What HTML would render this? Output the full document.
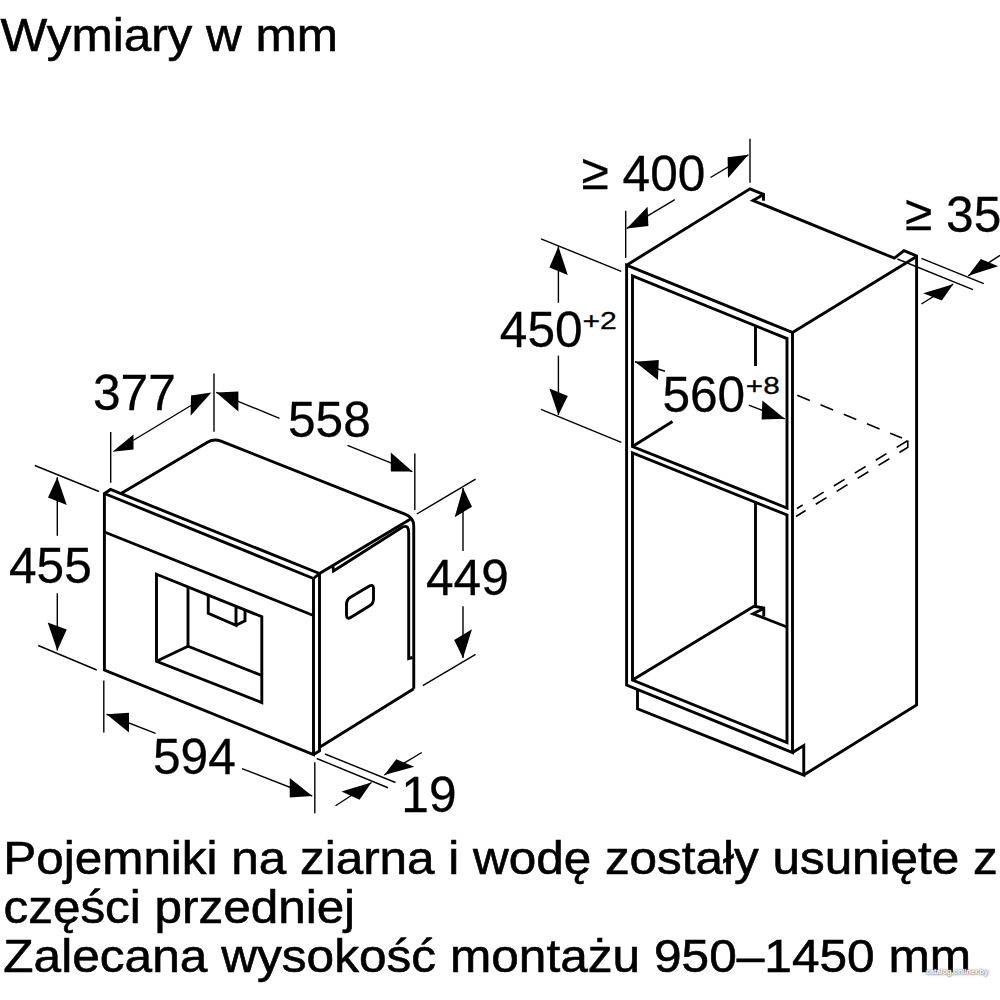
<!DOCTYPE html>
<html lang="pl">
<head>
<meta charset="utf-8">
<title>Wymiary w mm</title>
<style>
html,body{margin:0;padding:0;background:#fff;}
body{width:1000px;height:1000px;overflow:hidden;}
svg{display:block;}
body{position:relative;}
.wm{position:absolute;left:926px;top:967.3px;font:bold 7.3px/9px "Liberation Sans",Arial,sans-serif;color:#fff;text-shadow:0 0 1.5px #777,0 0 2.5px #999,0.5px 1px 2px #aaa;white-space:nowrap;letter-spacing:0;}
svg text.d,svg text.s{stroke-width:0.3;}
svg text{font-family:"Liberation Sans",Arial,Helvetica,sans-serif;fill:#000;stroke:#000;stroke-width:0.6;}
.thick path{fill:none;stroke:#000;stroke-width:2.9;stroke-linejoin:miter;stroke-miterlimit:2.5;stroke-linecap:butt;}
.thin path{fill:none;stroke:#000;stroke-width:1.4;}
.dash path{fill:none;stroke:#000;stroke-width:1.6;}
.arr polygon{fill:#000;stroke:none;}
</style>
</head>
<body>
<svg width="1000" height="1000" viewBox="0 0 1000 1000">
<rect width="1000" height="1000" fill="#fff"/>
<g class="thick">
<path d="M104.4,493.5 L104.4,670 L313.5,754.5 L313.5,578.5"/>
<path d="M104.4,493.5 L313.5,578.5"/>
<path d="M104.4,494.5 L104.4,493.5 L110.5,489.5 L319.5,573.5"/>
<path d="M104.4,532 L313.5,615.5"/>
<path d="M319.5,572.5 L319.5,751 L313.5,754.5"/>
<path d="M313.5,578.5 L319.5,573.5"/>
<path d="M121,493.5 L207.5,442.2 Q214,438.3 221,441.1 L405,514.2 Q413.75,517.7 413.75,526 L413.75,688.8"/>
<path d="M411.5,518.5 L319.5,573.5"/>
<path d="M320,747 L413.75,688.8"/>
<path d="M333,566.5 L333.5,571 L401,528 Q408.7,523 408.7,533 L408.7,658.5 L412.5,657.5"/>
<path d="M346.5,604.5 Q346.5,599.6 350.5,597.2 L369,586.3 Q373.5,583.7 373.5,588.5 L373.5,599 Q373.5,603.4 369.7,605.7 L351,617.2 Q346.5,620 346.5,615 Z"/>
<path d="M156.5,574.25 L261.8,616.7 L261.8,702.5 L156.5,661.25Z"/>
<path d="M188,587 L188,646.25"/>
<path d="M156.5,661.25 L188,646.25 L261.8,675.5"/>
<path d="M208.25,595 L208.25,613.25 L236,625.25 L236,606.5"/>
<path d="M236,625.25 L245,620.75 L245,610"/>
<path d="M626.6,265.2 L626.6,685 L792.5,752.5 L792.5,332.5Z"/>
<path d="M632.5,276 L632.5,446.5 L787,508 L787,338.6Z"/>
<path d="M632.5,453 L632.5,680 L787,742.5 L787,515Z"/>
<path d="M626.6,265.2 L750,188.8 L763.5,194.3 L763.5,200.8"/>
<path d="M763.5,194.5 L753,200.5 L894.4,258.2 L904,250.6 L916.6,256 L916.6,705 L803.75,775"/>
<path d="M916.6,256.5 L792.5,332.5"/>
<path d="M755.5,327 L755.5,366"/>
<path d="M755.5,503 L755.5,606"/>
<path d="M632.5,446.5 L672.5,421.5"/>
<path d="M632.5,680 L754,606.25 L763.75,608 L763.75,616.5"/>
<path d="M763.75,608.5 L753,613.75 L787,627"/>
<path d="M637.5,689.5 L637.5,708.75 L803.75,775 L803.75,745.5 L792.5,752.5"/>
</g>
<g class="dash">
<path d="M797.25,395.3 L902,438.1" stroke-dasharray="13.6 11.5" stroke-dashoffset="0"/>
<path d="M907.5,440.75 L797,508.5" stroke-dasharray="12.7 11.9" stroke-dashoffset="0"/>
<path d="M907.5,447.5 L796,516.5" stroke-dasharray="12.7 11.9" stroke-dashoffset="3.2"/>
<path d="M907.8,440.5 L907.8,448" stroke-dasharray="none" stroke-dashoffset="0"/>
</g>
<g class="thin">
<path d="M214,373.4 L214,431.8"/>
<path d="M110.7,432 L110.7,482.8"/>
<path d="M133,440.5 L191,405.5"/>
<path d="M216.2,392.4 L279.5,418.3"/>
<path d="M412.4,471.6 L347.5,445.3"/>
<path d="M414.8,453.6 L414.8,510"/>
<path d="M416.8,514 L475.6,479.2"/>
<path d="M422.8,685.6 L475.6,654.4"/>
<path d="M463,488 L463,551"/>
<path d="M463,658 L463,606.3"/>
<path d="M34.8,465.5 L99,491.5"/>
<path d="M38.25,645.5 L96.75,670"/>
<path d="M57.3,477.25 L57.3,535.75"/>
<path d="M57.3,650.5 L57.3,593.2"/>
<path d="M103.8,680.5 L103.8,732.5"/>
<path d="M314.8,762.25 L314.8,813.25"/>
<path d="M106.5,714.25 L155.6,733.4"/>
<path d="M312.25,796 L242,768.6"/>
<path d="M316.75,758.5 L388,787.75"/>
<path d="M325,754 L395.5,782.5"/>
<path d="M384.25,775 L421.75,752.5"/>
<path d="M371.5,782.5 L335.5,805.75"/>
<path d="M625.7,210.8 L625.7,258"/>
<path d="M750,138.8 L750,182.8"/>
<path d="M626.8,228.4 L674.8,199.6"/>
<path d="M748.4,154.8 L710.5,177.5"/>
<path d="M541,238.8 L621.3,271.4"/>
<path d="M541,409.3 L621.3,442.3"/>
<path d="M558.4,246.5 L558.4,302.8"/>
<path d="M558.4,415 L558.4,355.6"/>
<path d="M635,361.75 L665,371.25"/>
<path d="M784.8,418.8 L748.8,405.2"/>
<path d="M897.4,259 L973,289.6"/>
<path d="M921.4,258.4 L983.8,283.6"/>
<path d="M968.2,275.8 L1000,255.4"/>
<path d="M953.2,284.2 L921.4,304"/>
</g>
<g class="arr">
<polygon points="112.5,451.75 133.5,434.5 133.5,449.5"/>
<polygon points="211.4,392.6 191,395.4 190.6,415.8"/>
<polygon points="216.2,392.4 238.4,391.4 238.4,411.6"/>
<polygon points="412.4,471.6 390.8,452.4 390.8,471.6"/>
<polygon points="463,488 454.7,517.3 472,506.7"/>
<polygon points="463,658 454.2,640 472,629.2"/>
<polygon points="57.3,477.25 48,497.5 66.75,505"/>
<polygon points="57.3,650.5 47.7,622.5 66.75,629.5"/>
<polygon points="106.5,714.25 129,712.75 129,732.5"/>
<polygon points="312.25,796 289.75,778 289.75,797.5"/>
<polygon points="384.25,775 396.25,759.25 414.25,766.75"/>
<polygon points="371.5,782.5 341.5,791.5 359.5,799.75"/>
<polygon points="626.8,228.4 647.6,206.8 648.4,226"/>
<polygon points="748.4,154.8 727.6,157.2 728,178"/>
<polygon points="558.4,246.5 549.4,267.4 567.8,275.1"/>
<polygon points="558.4,415 549.4,388.4 567.8,396.1"/>
<polygon points="635,361.75 658.75,360 658,380"/>
<polygon points="784.8,418.8 762.4,400.4 761.6,419.6"/>
<polygon points="968.2,275.8 980.8,259 998.2,266.2"/>
<polygon points="953.2,284.2 923.2,293.2 941.8,300.4"/>
</g>
<g class="txt">
<text transform="translate(0.6,51) scale(1.054,1)" font-size="46.9">Wymiary w mm</text>
<text transform="translate(93,409.8) scale(0.993,1)" font-size="50" class="d">377</text>
<text transform="translate(288,436.8) scale(0.993,1)" font-size="50" class="d">558</text>
<text transform="translate(9,582.8) scale(0.993,1)" font-size="50" class="d">455</text>
<text transform="translate(426,595.2) scale(0.993,1)" font-size="50" class="d">449</text>
<text transform="translate(153,774) scale(0.993,1)" font-size="50" class="d">594</text>
<text transform="translate(401.3,812.4) scale(0.993,1)" font-size="50" class="d">19</text>
<text transform="translate(581.5,191) scale(0.993,1)" font-size="50" class="d"><tspan dy="-2">≥</tspan><tspan dy="2"> 400</tspan></text>
<text transform="translate(905,231.6) scale(0.993,1)" font-size="50" class="d"><tspan dy="-2">≥</tspan><tspan dy="2"> 35</tspan></text>
<text transform="translate(499.8,347) scale(0.993,1)" font-size="50" class="d">450</text>
<text transform="translate(582.5,329.3) scale(1.29,1)" font-size="23.4" class="s">+2</text>
<text transform="translate(662.4,411.5) scale(0.993,1)" font-size="50" class="d">560</text>
<text transform="translate(745.8,394) scale(1.27,1)" font-size="23.4" class="s">+8</text>
<text transform="translate(3.3,874) scale(1.054,1)" font-size="46.9">Pojemniki na ziarna i wodę zostały usunięte z</text>
<text transform="translate(3.5,923) scale(1.054,1)" font-size="46.9">części przedniej</text>
<text transform="translate(3.3,972.3) scale(1.058,1)" font-size="46.9">Zalecana wysokość montażu 950–1450 mm</text>

</g>
</svg>
<div class="wm">catalog.onliner.by</div>
</body>
</html>
